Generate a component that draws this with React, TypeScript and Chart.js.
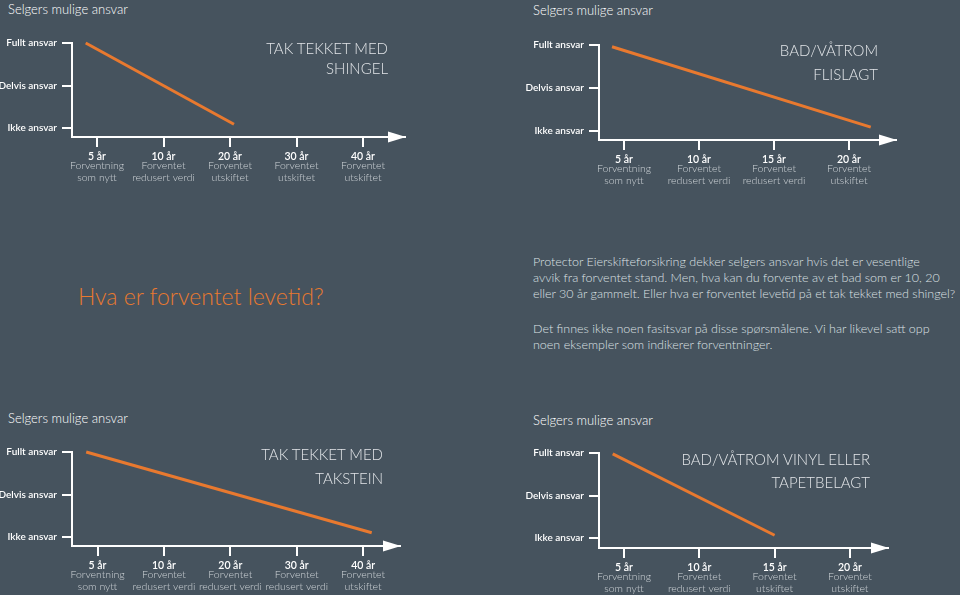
import React, { useEffect, useRef } from "react";
import { Chart, registerables } from "chart.js";
Chart.register(...registerables);

const BG = "#46535e";
const ORANGE = "#e8792f";
const WHITE = "#ffffff";
const SUB = "#d0d5d9";
const FONT = "Lato, 'Open Sans', sans-serif";
const LIGHT = "'Lato Light', Lato, 'Open Sans', sans-serif";

const yLevels = [0, 1, 2];
const yLabels = ["Ikke ansvar", "Delvis ansvar", "Fullt ansvar"];
const panelHeading = "Selgers mulige ansvar";

// Panel 1: tak tekket med shingel
const shingelYears = ["5 år", "10 år", "20 år", "30 år", "40 år"];
const shingelNotes = [
  ["Forventning", "som nytt"],
  ["Forventet", "redusert verdi"],
  ["Forventet", "utskiftet"],
  ["Forventet", "utskiftet"],
  ["Forventet", "utskiftet"],
];
const shingelLine = [{ x: -0.17, y: 2 }, { x: 2.06, y: 0.09 }];
const shingelTitle = ["TAK TEKKET MED", "SHINGEL"];

// Panel 2: bad/våtrom flislagt
const flisYears = ["5 år", "10 år", "15 år", "20 år"];
const flisNotes = [
  ["Forventning", "som nytt"],
  ["Forventet", "redusert verdi"],
  ["Forventet", "redusert verdi"],
  ["Forventet", "utskiftet"],
];
const flisLine = [{ x: -0.16, y: 1.96 }, { x: 3.29, y: 0.09 }];
const flisTitle = ["BAD/VÅTROM", "FLISLAGT"];

// Panel 3: tak tekket med takstein
const taksteinYears = ["5 år", "10 år", "20 år", "30 år", "40 år"];
const taksteinNotes = [
  ["Forventning", "som nytt"],
  ["Forventet", "redusert verdi"],
  ["Forventet", "redusert verdi"],
  ["Forventet", "redusert verdi"],
  ["Forventet", "utskiftet"],
];
const taksteinLine = [{ x: -0.17, y: 2 }, { x: 4.13, y: 0.1 }];
const taksteinTitle = ["TAK TEKKET MED", "TAKSTEIN"];

// Panel 4: bad/våtrom vinyl eller tapetbelagt
const vinylYears = ["5 år", "10 år", "15 år", "20 år"];
const vinylNotes = [
  ["Forventning", "som nytt"],
  ["Forventet", "redusert verdi"],
  ["Forventet", "utskiftet"],
  ["Forventet", "utskiftet"],
];
const vinylLine = [{ x: -0.15, y: 1.98 }, { x: 2.0, y: 0.07 }];
const vinylTitle = ["BAD/VÅTROM VINYL ELLER", "TAPETBELAGT"];

const introHeading = "Hva er forventet levetid?";
const introPara1 = [
  "Protector Eierskifteforsikring dekker selgers ansvar hvis det er vesentlige",
  "avvik fra forventet stand. Men, hva kan du forvente av et bad som er 10, 20",
  "eller 30 år gammelt. Eller hva er forventet levetid på et tak tekket med shingel?",
];
const introPara2 = [
  "Det finnes ikke noen fasitsvar på disse spørsmålene. Vi har likevel satt opp",
  "noen eksempler som indikerer forventninger.",
];

type PanelProps = {
  left: number; top: number; width: number; height: number;
  axisX: number; axisTop: number; axisY: number; arrowX: number;
  firstTick: number; tickGap: number; yMin: number;
  years: string[]; notes: string[][]; line: { x: number; y: number }[];
};

function Panel(p: PanelProps) {
  const ref = useRef<HTMLCanvasElement | null>(null);
  useEffect(() => {
    if (!ref.current) return;
    const xMin = (p.axisX - p.firstTick) / p.tickGap;
    const xMax = (p.arrowX - p.firstTick) / p.tickGap;
    const arrowPlugin = {
      id: "arrow" + p.left + p.top,
      afterDraw(chart: any) {
        const { ctx, chartArea } = chart;
        const x = chartArea.right;
        const y = chartArea.bottom;
        ctx.save();
        ctx.fillStyle = WHITE;
        ctx.beginPath();
        ctx.moveTo(x + 1, y);
        ctx.lineTo(x - 17, y - 5.5);
        ctx.lineTo(x - 17, y + 5.5);
        ctx.closePath();
        ctx.fill();
        // sub labels under each tick
        const xs = chart.scales.x;
        ctx.fillStyle = SUB;
        ctx.font = `300 10.5px ${LIGHT}`;
        ctx.textAlign = "center";
        ctx.textBaseline = "middle";
        p.notes.forEach((lines, i) => {
          const px = xs.getPixelForValue(i);
          lines.forEach((t, j) => {
            ctx.fillText(t, px, y + 29 + j * 11.5);
          });
        });
        ctx.restore();
      },
    };
    const chart = new Chart(ref.current, {
      type: "line",
      data: {
        datasets: [
          {
            data: p.line,
            borderColor: ORANGE,
            borderWidth: 3,
            pointRadius: 0,
            tension: 0,
            clip: false as any,
          },
        ],
      },
      options: {
        animation: false,
        responsive: false,
        events: [],
        layout: {
          padding: {
            left: 0,
            top: p.axisTop - p.top,
            right: p.left + p.width - p.arrowX,
            bottom: 0,
          },
        },
        plugins: { legend: { display: false }, tooltip: { enabled: false } },
        scales: {
          x: {
            type: "linear",
            min: xMin,
            max: xMax,
            afterFit: (s: any) => { s.height = p.top + p.height - p.axisY; },
            afterBuildTicks: (s: any) => { s.ticks = p.years.map((_, i) => ({ value: i })); },
            grid: { drawOnChartArea: false, drawTicks: true, tickLength: 10, color: WHITE, lineWidth: 2 },
            border: { display: true, color: WHITE, width: 2 },
            ticks: {
              color: WHITE,
              font: { family: FONT, size: 10.5, weight: 600 as any },
              padding: 3,
              maxRotation: 0,
              autoSkip: false,
              callback: (_v: any, i: number) => p.years[i],
            },
          },
          y: {
            type: "linear",
            min: p.yMin,
            max: 2,
            afterFit: (s: any) => { s.width = p.axisX - p.left; },
            afterBuildTicks: (s: any) => { s.ticks = yLevels.map((v) => ({ value: v })); },
            grid: { drawOnChartArea: false, drawTicks: true, tickLength: 10, color: WHITE, lineWidth: 2 },
            border: { display: true, color: WHITE, width: 2 },
            ticks: {
              color: WHITE,
              font: { family: FONT, size: 10, weight: 600 as any },
              padding: 5,
              autoSkip: false,
              callback: (v: any) => yLabels[Math.round(v)],
            },
          },
        },
      },
      plugins: [arrowPlugin],
    } as any);
    return () => chart.destroy();
  }, []);
  return (
    <canvas
      ref={ref}
      width={p.width}
      height={p.height}
      style={{ position: "absolute", left: p.left, top: p.top, width: p.width, height: p.height }}
    />
  );
}

function Heading({ left, cy, text }: { left: number; cy: number; text: string }) {
  return (
    <div style={{ position: "absolute", left, top: cy - 8, lineHeight: "16px", fontSize: 13, fontWeight: 300, color: "#ffffff", fontFamily: LIGHT, whiteSpace: "nowrap" }}>
      {text}
    </div>
  );
}

function Title({ right, cy, gap, lines }: { right: number; cy: number; gap: number; lines: string[] }) {
  return (
    <div style={{ position: "absolute", right: 960 - right, top: cy - gap / 2, lineHeight: gap + "px", fontSize: 15, fontWeight: 300, color: "#e2e5e8", fontFamily: LIGHT, textAlign: "right", whiteSpace: "nowrap" }}>
      {lines.map((l, i) => <div key={i}>{l}</div>)}
    </div>
  );
}

export default function App() {
  return (
    <div style={{ position: "absolute", left: 0, top: 0, width: 960, height: 595, background: BG, overflow: "hidden", fontFamily: FONT }}>
      <Heading left={8} cy={9} text={panelHeading} />
      <Heading left={533} cy={10} text={panelHeading} />
      <Heading left={8} cy={418} text={panelHeading} />
      <Heading left={533} cy={420} text={panelHeading} />

      <Panel left={0} top={20} width={440} height={180} axisX={72} axisTop={43} axisY={137} arrowX={405}
        firstTick={97} tickGap={66.5} yMin={-0.21} years={shingelYears} notes={shingelNotes} line={shingelLine} />
      <Panel left={480} top={20} width={440} height={180} axisX={599} axisTop={45} axisY={140} arrowX={896}
        firstTick={624} tickGap={75} yMin={-0.21} years={flisYears} notes={flisNotes} line={flisLine} />
      <Panel left={0} top={428} width={440} height={167} axisX={72} axisTop={452} axisY={546} arrowX={400}
        firstTick={97.5} tickGap={66.4} yMin={-0.21} years={taksteinYears} notes={taksteinNotes} line={taksteinLine} />
      <Panel left={480} top={428} width={440} height={167} axisX={599} axisTop={453} axisY={548} arrowX={888}
        firstTick={624} tickGap={75.3} yMin={-0.23} years={vinylYears} notes={vinylNotes} line={vinylLine} />

      <Title right={388} cy={48} gap={20} lines={shingelTitle} />
      <Title right={878} cy={51} gap={23.5} lines={flisTitle} />
      <Title right={383} cy={454} gap={24} lines={taksteinTitle} />
      <Title right={870} cy={459} gap={23} lines={vinylTitle} />

      <div style={{ position: "absolute", left: 78, top: 282, lineHeight: "28px", fontSize: 23, fontWeight: 300, color: ORANGE, fontFamily: LIGHT, whiteSpace: "nowrap" }}>
        {introHeading}
      </div>
      <div style={{ position: "absolute", left: 533, top: 254, lineHeight: "16px", fontSize: 12.5, fontWeight: 300, color: "#dde1e4", fontFamily: LIGHT, whiteSpace: "nowrap" }}>
        {introPara1.map((l, i) => <div key={i}>{l}</div>)}
        <div style={{ height: 19 }} />
        {introPara2.map((l, i) => <div key={i}>{l}</div>)}
      </div>
    </div>
  );
}
